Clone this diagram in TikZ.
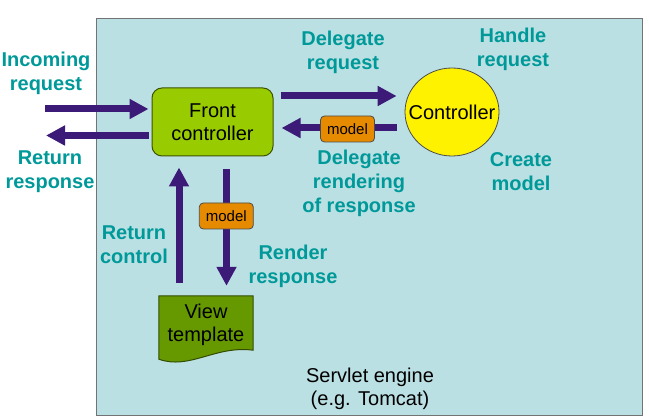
\documentclass[tikz,border=0pt]{standalone}
\usepackage{fontspec}
\setmainfont{Liberation Sans}
\usetikzlibrary{arrows.meta,shapes.geometric}
\definecolor{bgbox}{HTML}{BBE0E3}
\definecolor{arrowc}{HTML}{3B1A78}
\definecolor{labelc}{HTML}{009999}
\definecolor{fcgreen}{HTML}{99CC00}
\definecolor{vtgreen}{HTML}{669900}
\definecolor{modelc}{HTML}{E68A00}
\tikzset{
  bigarrow/.style={draw=arrowc, line width=7pt, -{Triangle[width=19pt,length=19pt]}},
  lbl/.style={text=labelc, font=\fontsize{20}{24}\selectfont\bfseries, align=center, inner sep=0pt},
  plain/.style={font=\fontsize{20}{23}\selectfont, align=center, inner sep=0pt},
  modelbox/.style={draw=black!70, fill=modelc, rounded corners=4pt, minimum width=54pt, minimum height=26pt, inner sep=0pt, font=\fontsize{15}{17}\selectfont, line width=0.8pt}
}
\begin{document}
\begin{tikzpicture}[x=1pt,y=-1pt]
\useasboundingbox (0,0) rectangle (649,419);
% servlet engine box
\node[draw=gray!90!black, fill=bgbox, line width=1pt, minimum width=546pt, minimum height=397pt, inner sep=0pt] (engine) at (369,217.5) {};
% front controller
\node[draw=black!60!fcgreen, fill=fcgreen, rounded corners=10pt, minimum width=121pt, minimum height=68pt, inner sep=0pt, line width=1pt, plain] (fc) at (212.5,122) {Front\\controller};
% controller
\node[draw=black!70, fill=yellow, ellipse, minimum width=94pt, minimum height=88pt, inner sep=0pt, line width=0.8pt] (ctl) at (452,112) {};
\node[plain] (ctltext) at (ctl.center) {Controller};
% view template
\node[minimum width=94pt, minimum height=63pt, inner sep=0pt] (vt) at (206,327.5) {};
\filldraw[fill=vtgreen, draw=black!50!vtgreen, line width=1pt]
  (vt.north west) -- (vt.north east) -- ([yshift=9pt]vt.south east)
  .. controls ([xshift=-38pt,yshift=14pt]vt.south east) and ([xshift=31pt,yshift=-11pt]vt.south west) .. (vt.south west) -- cycle;
\node[plain] (vttext) at (206,325) {View\\template};
% free ends
\coordinate (inStart) at (45,109);
\coordinate (retEnd) at (46,135.5);
% arrows
\draw[bigarrow] (inStart) -- ([xshift=-3pt,yshift=13pt]fc.west);
\draw[bigarrow] ([xshift=-3pt,yshift=-13.5pt]fc.west) -- (retEnd);
\draw[bigarrow] ([xshift=7pt,yshift=26pt]fc.east) -- ([xshift=-8pt,yshift=16pt]ctl.west);
\draw[bigarrow] ([xshift=-8pt,yshift=-16pt]ctl.west) -- ([xshift=8pt,yshift=-6pt]fc.east);
\draw[bigarrow] ([xshift=14pt,yshift=-13pt]fc.south) -- ([xshift=20.5pt,yshift=10pt]vt.north);
\draw[bigarrow] ([xshift=-27pt,yshift=13pt]vt.north) -- ([xshift=-33.5pt,yshift=-11pt]fc.south);
% model boxes
\node[modelbox] (m1) at (347.5,129) {model};
\node[modelbox] (m2) at (226.3,216) {model};
% labels
\node[lbl] (l1) at (46,73) {Incoming\\request};
\node[lbl] (l2) at (50,172) {Return\\response};
\node[lbl] (l3) at (343,52) {Delegate\\request};
\node[lbl] (l4) at (513,49) {Handle\\request};
\node[lbl] (l5) at (359,183) {Delegate\\rendering\\of response};
\node[lbl] (l6) at (521,172) {Create\\model};
\node[lbl] (l7) at (134,245) {Return\\control};
\node[lbl] (l8) at (293,266) {Render\\response};
\node[plain] (se) at (370,389) {Servlet engine\\(e.g. Tomcat)};
\end{tikzpicture}
\end{document}
